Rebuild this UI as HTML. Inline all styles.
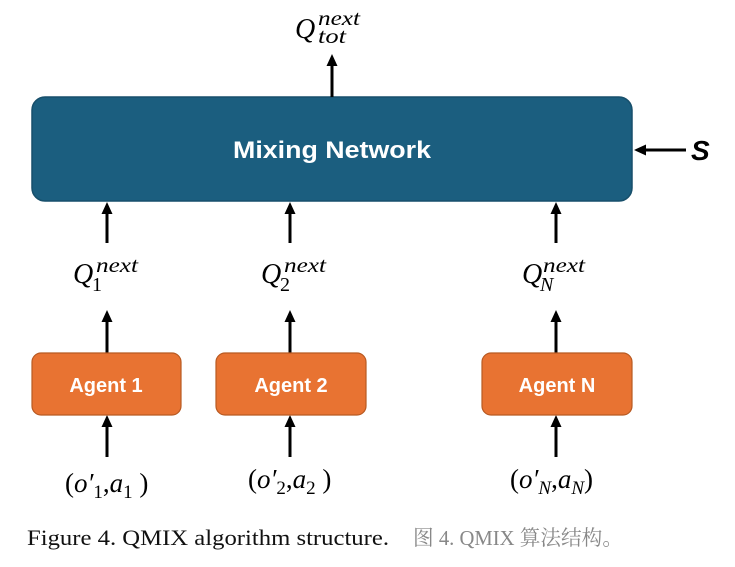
<!DOCTYPE html>
<html><head><style>
body{margin:0;background:#fff;width:735px;height:567px;overflow:hidden;position:relative}
</style></head><body>
<svg width="735" height="567" style="position:absolute;left:0;top:0">
<defs><marker id="a" markerWidth="12" markerHeight="12" refX="6" refY="6" orient="auto" markerUnits="userSpaceOnUse"><path d="M0,0.5 L12,6 L0,11.5 z" fill="#000"/></marker></defs>
<rect x="32" y="97" width="600" height="104" rx="13" fill="#1b5e7f" stroke="#174f6b" stroke-width="1.5"/>
<text x="233" y="158" font-family="Liberation Sans, sans-serif" font-weight="bold" font-size="24" fill="#fff" textLength="198" lengthAdjust="spacingAndGlyphs">Mixing Network</text>
<g stroke="#000" stroke-width="3" marker-end="url(#a)">
<line x1="332" y1="97" x2="332" y2="60"/>
<line x1="686" y1="150" x2="640" y2="150"/>
<line x1="107" y1="243" x2="107" y2="208"/>
<line x1="290" y1="243" x2="290" y2="208"/>
<line x1="556" y1="243" x2="556" y2="208"/>
<line x1="107" y1="353" x2="107" y2="316"/>
<line x1="290" y1="353" x2="290" y2="316"/>
<line x1="556" y1="353" x2="556" y2="316"/>
<line x1="107" y1="457" x2="107" y2="421"/>
<line x1="290" y1="457" x2="290" y2="421"/>
<line x1="556" y1="457" x2="556" y2="421"/>
</g>
<g fill="#e87332" stroke="#b85a22" stroke-width="1.2">
<rect x="32" y="353" width="149" height="62" rx="9"/>
<rect x="216" y="353" width="150" height="62" rx="9"/>
<rect x="482" y="353" width="150" height="62" rx="9"/>
</g>
<g font-family="Liberation Sans, sans-serif" font-weight="bold" font-size="20" fill="#fff" text-anchor="middle">
<text x="106" y="392">Agent 1</text><text x="291" y="392">Agent 2</text><text x="557" y="392">Agent N</text>
</g>
<g font-family="Liberation Serif, serif" font-style="italic" fill="#000">
<text x="691" y="160" font-size="28" font-weight="bold" font-family="Liberation Sans, sans-serif">S</text>
<text x="295" y="38" font-size="28">Q</text><text x="318" y="25" font-size="21" textLength="42" lengthAdjust="spacingAndGlyphs">next</text><text x="318" y="43" font-size="21" textLength="28" lengthAdjust="spacingAndGlyphs">tot</text>
<text x="73" y="283" font-size="28">Q</text><text x="96" y="272" font-size="21" textLength="42" lengthAdjust="spacingAndGlyphs">next</text><text x="92" y="291" font-size="20" font-style="normal">1</text>
<text x="261" y="283" font-size="28">Q</text><text x="284" y="272" font-size="21" textLength="42" lengthAdjust="spacingAndGlyphs">next</text><text x="280" y="291" font-size="20" font-style="normal">2</text>
<text x="522" y="283" font-size="28">Q</text><text x="543" y="272" font-size="21" textLength="42" lengthAdjust="spacingAndGlyphs">next</text><text x="540" y="291" font-size="20">N</text>
<text x="65" y="492" font-size="27"><tspan font-style="normal">(</tspan>o′<tspan font-size="19" dy="6" font-style="normal">1</tspan><tspan dy="-6" font-style="normal">,</tspan>a<tspan font-size="19" dy="6" font-style="normal">1</tspan><tspan dy="-6" font-style="normal"> )</tspan></text>
<text x="248" y="488" font-size="27"><tspan font-style="normal">(</tspan>o′<tspan font-size="19" dy="6" font-style="normal">2</tspan><tspan dy="-6" font-style="normal">,</tspan>a<tspan font-size="19" dy="6" font-style="normal">2</tspan><tspan dy="-6" font-style="normal"> )</tspan></text>
<text x="510" y="488" font-size="27"><tspan font-style="normal">(</tspan>o′<tspan font-size="19" dy="6">N</tspan><tspan dy="-6" font-style="normal">,</tspan>a<tspan font-size="19" dy="6">N</tspan><tspan dy="-6" font-style="normal">)</tspan></text>
</g>
<text x="27" y="545" font-family="Liberation Serif, serif" font-size="22" fill="#111" textLength="362" lengthAdjust="spacingAndGlyphs">Figure 4. QMIX algorithm structure.</text>
<text x="413" y="545" font-family="Liberation Serif, 'Noto Serif CJK SC', serif" font-size="21" fill="#888" textLength="210" lengthAdjust="spacingAndGlyphs">图 4. QMIX 算法结构。</text>
</svg>
</body></html>
